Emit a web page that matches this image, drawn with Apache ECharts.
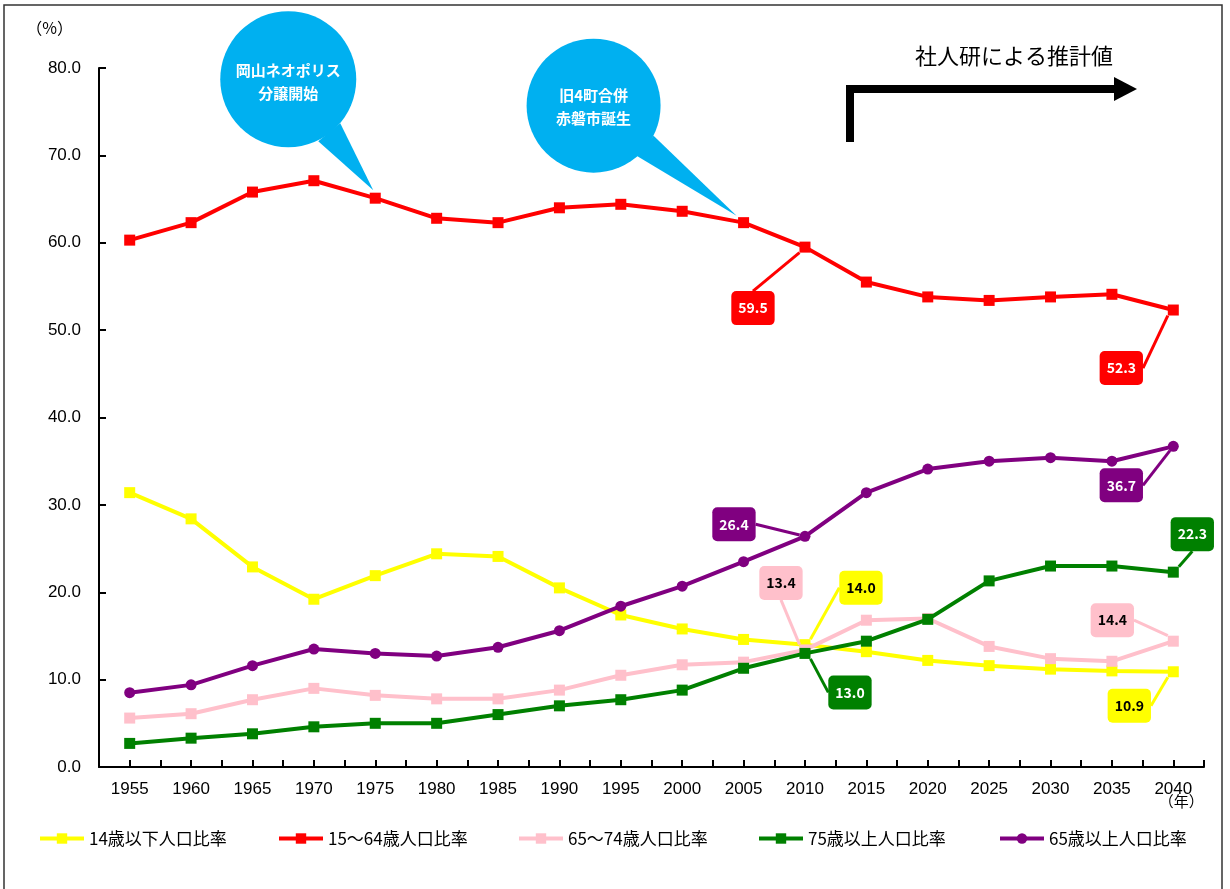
<!DOCTYPE html>
<html>
<head>
<meta charset="utf-8">
<script src="https://cdn.jsdelivr.net/npm/echarts@6/dist/echarts.min.js"></script>
<style>
html,body{margin:0;padding:0;background:#fff;}
#chart{width:1230px;height:889px;}
</style>
</head>
<body>
<div id="chart"></div>
<script>
// ---------- data ----------
const years = ['1955','1960','1965','1970','1975','1980','1985','1990','1995','2000','2005','2010','2015','2020','2025','2030','2035','2040'];
const seriesNames = ['14歳以下人口比率','15～64歳人口比率','65～74歳人口比率','75歳以上人口比率','65歳以上人口比率'];
const under14   = [31.4,28.4,22.9,19.2,21.9,24.4,24.1,20.5,17.4,15.8,14.6,14.0,13.2,12.2,11.6,11.2,11.0,10.9];
const age15to64 = [60.3,62.3,65.8,67.1,65.1,62.8,62.3,64.0,64.4,63.6,62.3,59.5,55.5,53.8,53.4,53.8,54.1,52.3];
const age65to74 = [5.6,6.1,7.7,9.0,8.2,7.8,7.8,8.8,10.5,11.7,12.0,13.4,16.8,17.0,13.8,12.4,12.1,14.4];
const over75    = [2.7,3.3,3.8,4.6,5.0,5.0,6.0,7.0,7.7,8.8,11.3,13.0,14.4,16.9,21.3,23.0,23.0,22.3];
const over65    = [8.5,9.4,11.6,13.5,13.0,12.7,13.7,15.6,18.4,20.7,23.5,26.4,31.4,34.1,35.0,35.4,35.0,36.7];
const yTicks = [0,10,20,30,40,50,60,70,80];
const xAxisName = '（年）';
const yAxisName = '（%）';
const bubble1Text = '岡山ネオポリス\n分譲開始';
const bubble2Text = '旧4町合併\n赤磐市誕生';
const projectionText = '社人研による推計値';

// ---------- styles ----------
const colors = ['#FFFF00','#FF0000','#FFC0CB','#008000','#800080'];
const labelTextColors = ['#000','#fff','#000','#fff','#fff'];
const symbols = ['rect','rect','rect','rect','circle'];
const legendLefts = [33, 272, 512, 752, 993];
// callout label offsets (from point centre) per series: {dataIndex: [dx, dy]}
const calloutOffsets = [
  {11:[56,-57], 17:[-44,34]},
  {11:[-52,61], 17:[-52,58]},
  {11:[-24,-67], 17:[-61,-21]},
  {11:[45,39], 17:[19,-38]},
  {11:[-71,-12], 17:[-52,39]}
];
const allData = [under14, age15to64, age65to74, over75, over65];
const FONT = "'Noto Sans CJK JP', 'Liberation Sans', sans-serif";

const chart = echarts.init(document.getElementById('chart'));

const series = allData.map((arr, si) => ({
  name: seriesNames[si],
  type: 'line',
  data: arr.map((v, i) => {
    const item = {value: v};
    if (calloutOffsets[si][i]) item.label = {show: true};
    return item;
  }),
  symbol: symbols[si],
  symbolSize: 11,
  lineStyle: {color: colors[si], width: 4},
  itemStyle: {color: colors[si]},
  z: 2 + si,
  label: {
    show: false,
    position: 'inside',
    formatter: p => p.value.toFixed(1),
    backgroundColor: colors[si],
    color: labelTextColors[si],
    fontFamily: FONT,
    fontWeight: 'bold',
    fontSize: 14,
    padding: [10, 7],
    borderRadius: 5
  },
  labelLine: {show: true, lineStyle: {color: colors[si], width: 3}},
  labelLayout: function (params) {
    const off = calloutOffsets[si][params.dataIndex];
    if (!off) return {};
    const cx = params.rect.x + params.rect.width / 2;
    const cy = params.rect.y + params.rect.height / 2;
    return {x: cx + off[0], y: cy + off[1], align: 'center', verticalAlign: 'middle'};
  },
  emphasis: {disabled: true},
  animation: false
}));

const legends = seriesNames.map((n, i) => ({
  bottom: 37,
  left: legendLefts[i],
  itemWidth: 44,
  itemHeight: 13,
  itemGap: 0,
  lineStyle: {width: 4},
  textStyle: {fontFamily: FONT, fontSize: 17, color: '#000'},
  data: [n]
}));

const option = {
  animation: false,
  backgroundColor: '#fff',
  color: colors,
  grid: {left: 99, right: 26, top: 68, bottom: 122},
  legend: legends,
  xAxis: [{
    type: 'category',
    data: years,
    boundaryGap: true,
    axisLine: {show: true, lineStyle: {color: '#000', width: 2}},
    axisTick: {show: true, inside: true, length: 7, interval: 0, lineStyle: {color: '#000', width: 2}},
    axisLabel: {color: '#000', fontFamily: "'Liberation Sans', sans-serif", fontSize: 17, margin: 14}
  }, {
    type: 'category',
    data: years,
    boundaryGap: true,
    position: 'bottom',
    axisLine: {show: false},
    axisTick: {show: true, inside: true, length: 7, interval: 0, alignWithLabel: true, lineStyle: {color: '#000', width: 2}},
    axisLabel: {show: false},
    splitLine: {show: false}
  }],
  yAxis: {
    type: 'value',
    min: 0, max: 80, interval: 10,
    axisLine: {show: true, lineStyle: {color: '#000', width: 2}},
    axisTick: {show: true, inside: true, length: 7, lineStyle: {color: '#000', width: 2}},
    splitLine: {show: false},
    axisLabel: {color: '#000', fontFamily: "'Liberation Sans', sans-serif", fontSize: 17, margin: 18,
      formatter: v => v.toFixed(1)},
    name: yAxisName,
    nameLocation: 'end',
    nameGap: 32,
    nameTextStyle: {color: '#000', fontFamily: FONT, fontSize: 16, align: 'right', padding: [0, 26, 0, 0]}
  },
  series: series
};
chart.setOption(option);

// ---------- annotations anchored to data points ----------
const BLUE = '#00B0F0';
function bubble(anchor, c, r, base1, base2, tip, text, textDy) {
  const ax = anchor[0], ay = anchor[1];
  return [{
    type: 'polygon', z: 50,
    shape: {points: [[ax + base1[0], ay + base1[1]], [ax + tip[0], ay + tip[1]], [ax + base2[0], ay + base2[1]]]},
    style: {fill: BLUE}
  }, {
    type: 'circle', z: 50,
    shape: {cx: ax + c[0], cy: ay + c[1], r: r},
    style: {fill: BLUE}
  }, {
    type: 'text', z: 51,
    x: ax + c[0], y: ay + c[1] + textDy,
    style: {text: text, fill: '#fff', font: "bold 15px " + FONT, align: 'center', verticalAlign: 'middle', lineHeight: 23}
  }];
}
const p1975 = chart.convertToPixel({seriesIndex: 1}, [4, age15to64[4]]);
const p2005 = chart.convertToPixel({seriesIndex: 1}, [10, age15to64[10]]);
const pEnd = chart.convertToPixel({xAxisIndex: 0, yAxisIndex: 0}, [years.length - 1, 0]);
const graphics = [].concat(
  bubble(p1975, [-87, -119], 68, [-57, -57], [-35, -75], [-2, -8], bubble1Text, 3),
  bubble(p2005, [-150, -117], 67, [-107, -67], [-90, -87], [-7, -7], bubble2Text, 1),
  [
    {type: 'text', z: 45, x: pEnd[0] + 8, y: pEnd[1] + 34,
     style: {text: xAxisName, fill: '#000', font: "15px " + FONT, align: 'center', verticalAlign: 'middle'}},
    {type: 'polyline', z: 40, shape: {points: [[850, 142], [850, 89], [1118, 89]]},
     style: {stroke: '#000', lineWidth: 8, fill: null}},
    {type: 'polygon', z: 40, shape: {points: [[1114, 77], [1137, 89], [1114, 101]]}, style: {fill: '#000'}},
    {type: 'text', z: 40, x: 1014, y: 56,
     style: {text: projectionText, fill: '#000', font: "22px " + FONT, align: 'center', verticalAlign: 'middle'}},
    {type: 'rect', z: 0, silent: true, shape: {x: 4, y: 5, width: 1218, height: 900},
     style: {fill: null, stroke: '#333', lineWidth: 1.5}}
  ]
);
chart.setOption({graphic: graphics});
</script>
</body>
</html>
